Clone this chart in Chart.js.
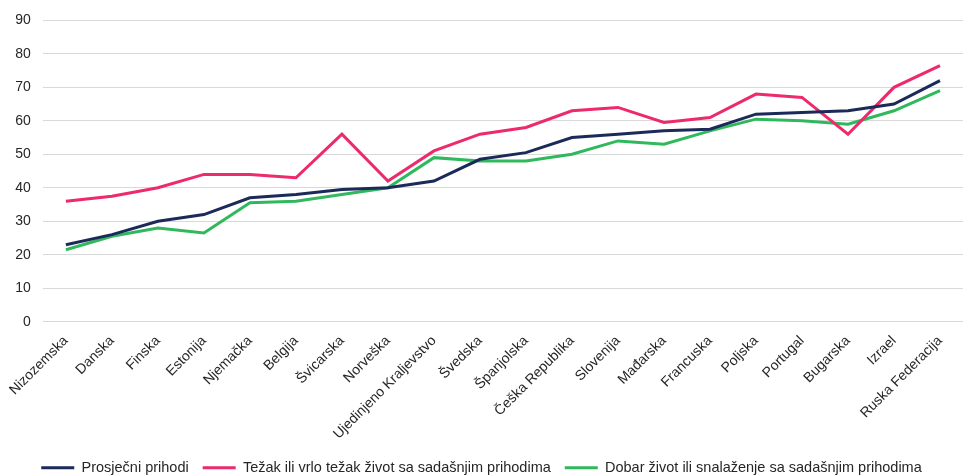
<!DOCTYPE html>
<html>
<head>
<meta charset="utf-8">
<script src="https://cdn.jsdelivr.net/npm/chart.js@4.4.1/dist/chart.umd.min.js"></script>
<style>
  html, body { margin: 0; padding: 0; background: #fff; }
  #wrap { width: 963px; height: 475px; position: relative; }
</style>
</head>
<body>
<div id="wrap"><canvas id="grafikon"></canvas></div>
<script>
// Podaci
const zemlje = ['Nizozemska', 'Danska', 'Finska', 'Estonija', 'Njemačka', 'Belgija', 'Švicarska', 'Norveška',
  'Ujedinjeno Kraljevstvo', 'Švedska', 'Španjolska', 'Češka Republika', 'Slovenija', 'Mađarska',
  'Francuska', 'Poljska', 'Portugal', 'Bugarska', 'Izrael', 'Ruska Federacija'];

const prosjecniPrihodi = [23, 26, 30, 32, 37, 38, 39.5, 40, 42, 48.5, 50.5, 55, 56, 57, 57.5, 62, 62.5, 63, 65, 72];
const tezakZivot = [36, 37.5, 40, 44, 44, 43, 56, 42, 51, 56, 58, 63, 64, 59.5, 61, 68, 67, 56, 70, 76.5];
const dobarZivot = [21.5, 25.5, 28, 26.5, 35.5, 36, 38, 40, 49, 48, 48, 50, 54, 53, 57, 60.5, 60, 59, 63, 69];

const yTicks = [0, 10, 20, 30, 40, 50, 60, 70, 80, 90];

const font = "'Liberation Sans', Arial, sans-serif";

// legenda bliže dnu: skrati kutiju legende
const legendaNize = {
  id: 'legendaNize',
  beforeLayout(chart) {
    const leg = chart.legend;
    if (!leg || leg._skraceno) return;
    const origFit = leg.fit;
    leg.fit = function () {
      origFit.call(this);
      this.height -= 10;
    };
    leg._skraceno = true;
  }
};

new Chart(document.getElementById('grafikon').getContext('2d'), {
  type: 'line',
  data: {
    labels: zemlje,
    datasets: [
      { label: 'Prosječni prihodi', data: prosjecniPrihodi, borderColor: '#1c2a5a', backgroundColor: '#1c2a5a', borderWidth: 3 },
      { label: 'Težak ili vrlo težak život sa sadašnjim prihodima', data: tezakZivot, borderColor: '#ec2a6c', backgroundColor: '#ec2a6c', borderWidth: 3 },
      { label: 'Dobar život ili snalaženje sa sadašnjim prihodima', data: dobarZivot, borderColor: '#30b95c', backgroundColor: '#30b95c', borderWidth: 3 }
    ]
  },
  options: {
    responsive: true,
    maintainAspectRatio: false,
    animation: false,
    layout: { padding: { top: 4, right: 0, left: 0, bottom: 0 } },
    elements: {
      line: { tension: 0 },
      point: { radius: 0 }
    },
    scales: {
      x: {
        offset: true,
        afterFit: axis => { axis.height -= 7; },
        grid: { display: false, drawTicks: false },
        border: { display: false },
        ticks: {
          color: '#262626',
          font: { family: font, size: 14 },
          maxRotation: 45,
          minRotation: 45,
          autoSkip: false,
          padding: 11
        }
      },
      y: {
        min: 0,
        max: 90,
        afterBuildTicks: axis => { axis.ticks = yTicks.map(v => ({ value: v })); },
        grid: { color: '#d9d9d9', lineWidth: 1, drawTicks: false },
        border: { display: false },
        ticks: {
          color: '#262626',
          font: { family: font, size: 14 },
          padding: 12
        }
      }
    },
    plugins: {
      legend: {
        position: 'bottom',
        labels: {
          usePointStyle: true,
          pointStyle: 'line',
          pointStyleWidth: 33,
          color: '#262626',
          font: { family: font, size: 14.5 },
          padding: 14
        }
      },
      tooltip: { enabled: false }
    }
  },
  plugins: [legendaNize]
});
</script>
</body>
</html>
